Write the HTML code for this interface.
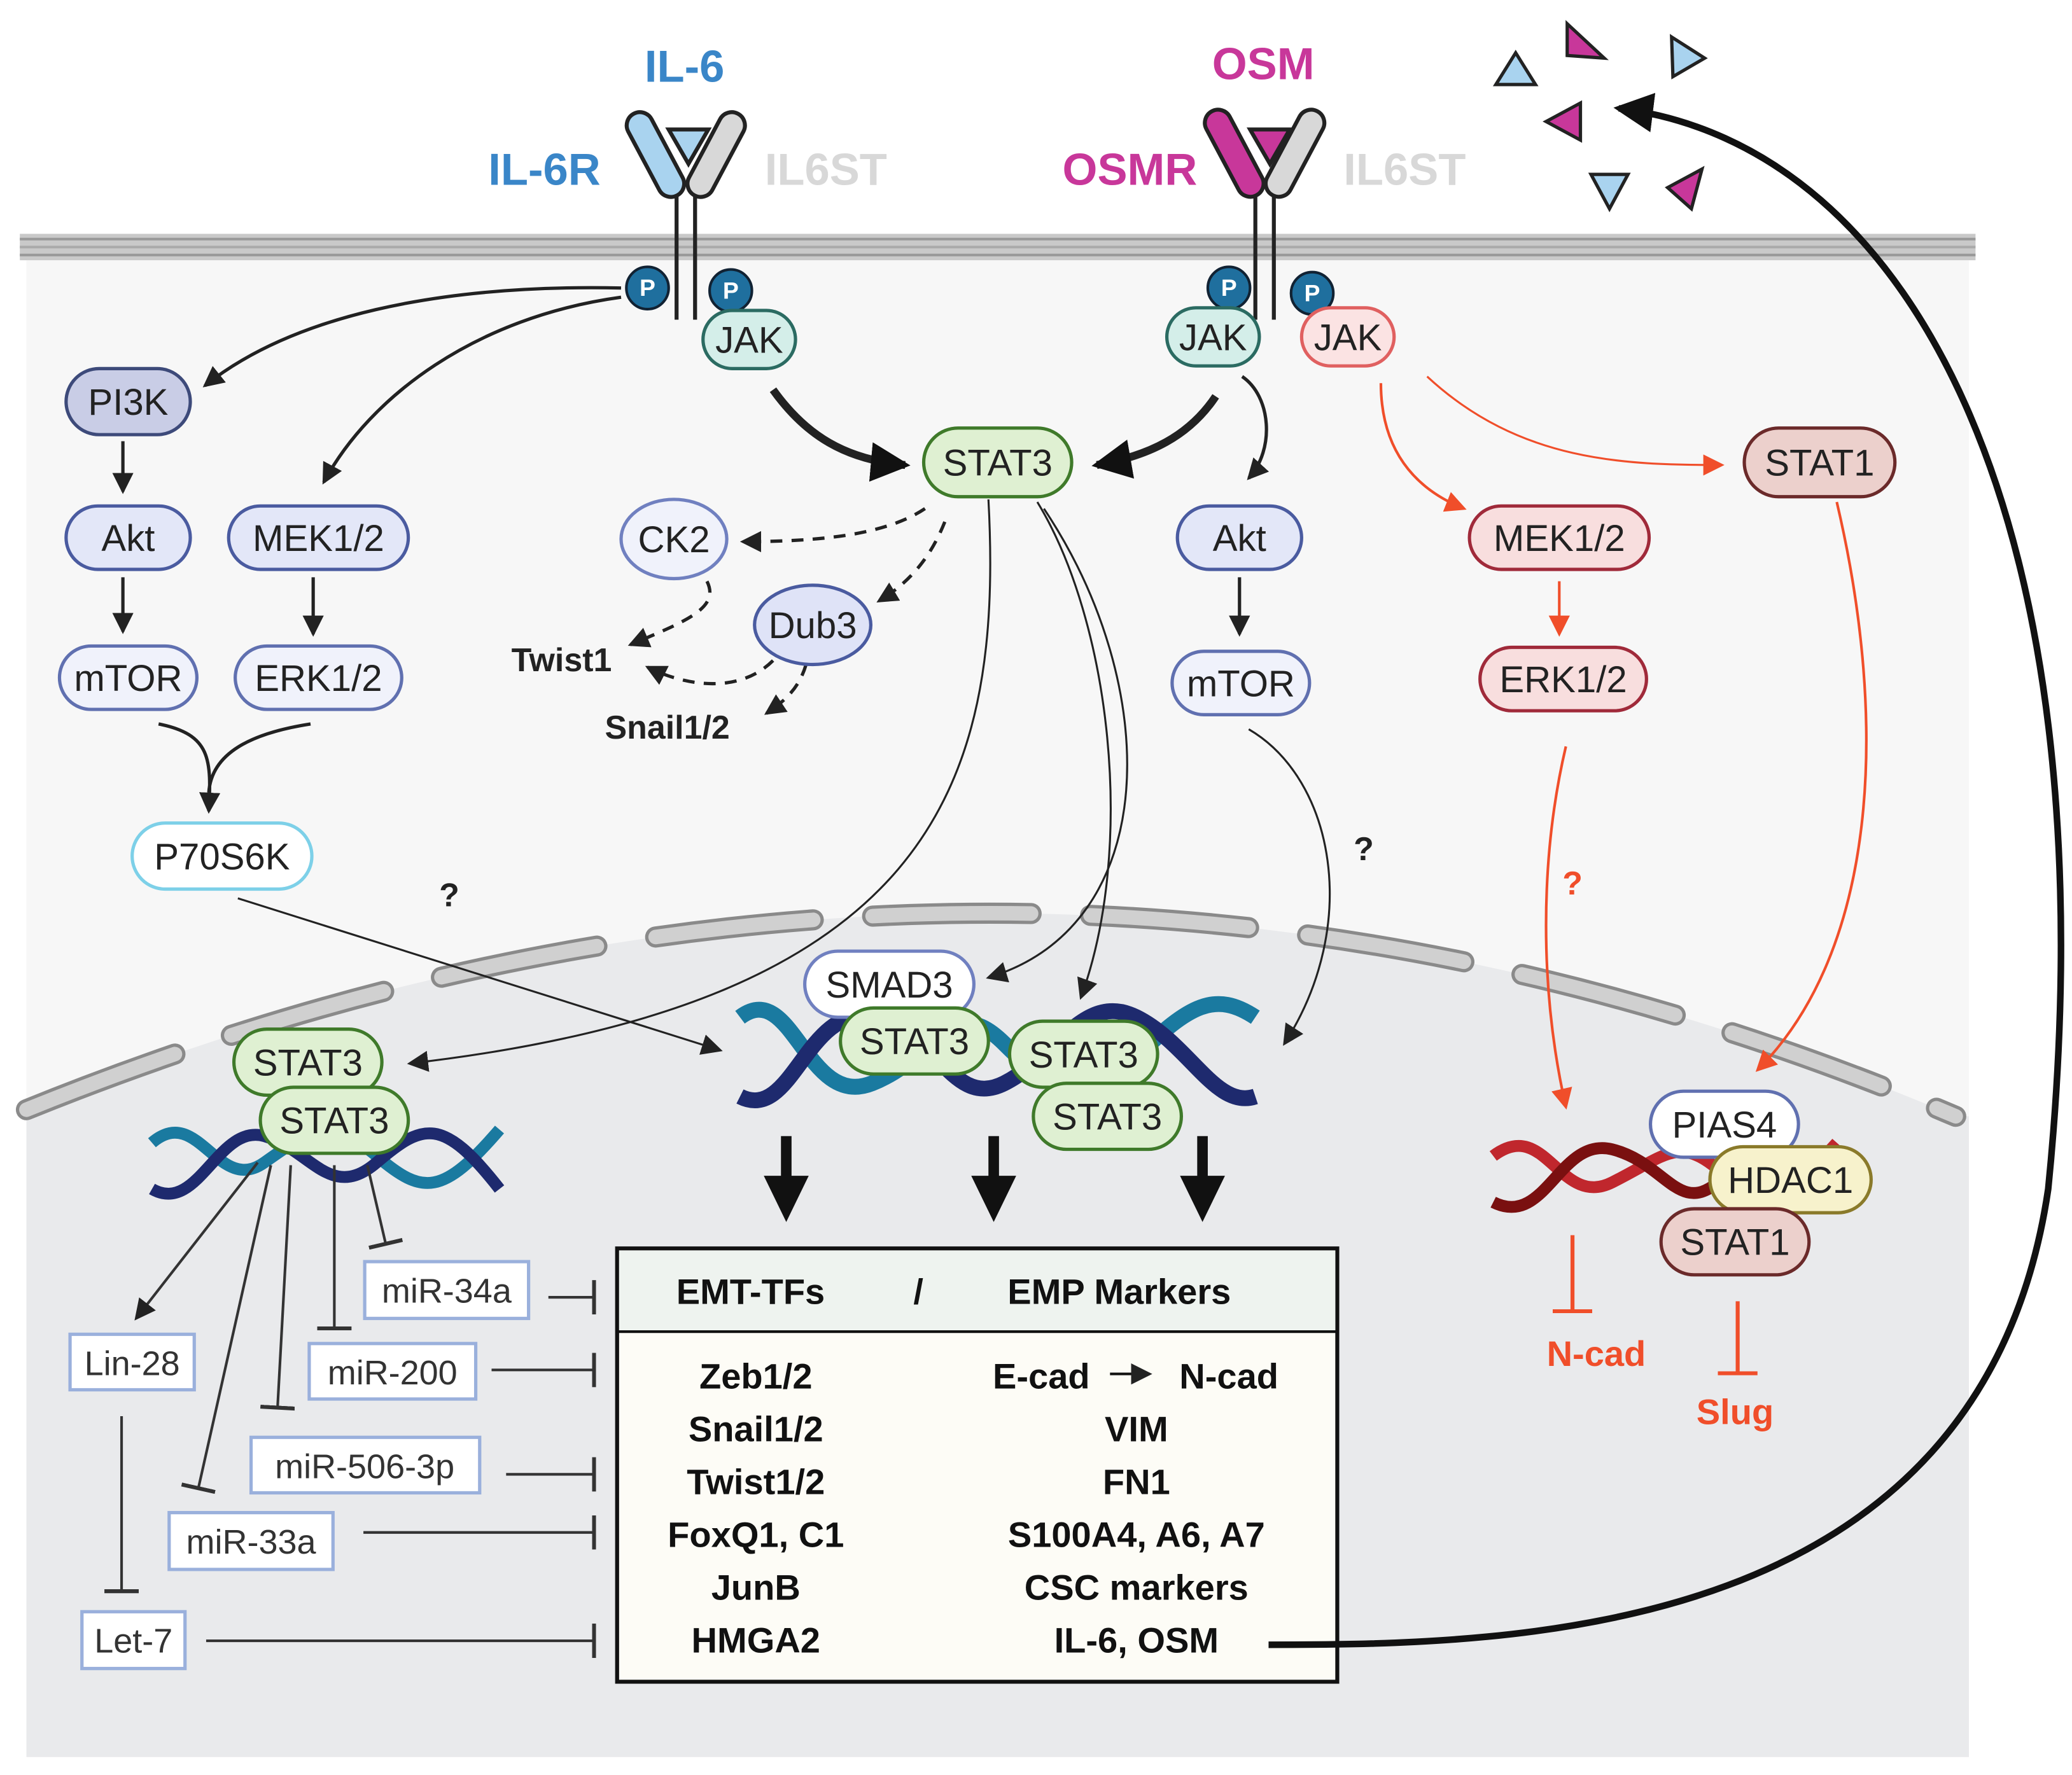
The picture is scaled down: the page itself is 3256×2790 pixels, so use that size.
<!DOCTYPE html>
<html><head><meta charset="utf-8"><style>
html,body{margin:0;padding:0;background:#fff}
svg{display:block}
text{font-family:"Liberation Sans",sans-serif}
</style></head><body>
<svg width="3256" height="2790" viewBox="0 0 1568 1343.6" xmlns="http://www.w3.org/2000/svg">
<defs>
<marker id="a" markerUnits="userSpaceOnUse" markerWidth="20" markerHeight="20" refX="14" refY="8" orient="auto"><path d="M0,0 L16,8 L0,16 Z" fill="#222"/></marker>
<marker id="ab" markerUnits="userSpaceOnUse" markerWidth="40" markerHeight="40" refX="26" refY="15" orient="auto"><path d="M0,0 L30,15 L0,30 Z" fill="#111"/></marker>
<marker id="ar" markerUnits="userSpaceOnUse" markerWidth="20" markerHeight="20" refX="14" refY="8" orient="auto"><path d="M0,0 L16,8 L0,16 Z" fill="#f04e2a"/></marker>
<marker id="t" markerUnits="userSpaceOnUse" markerWidth="4" markerHeight="26" refX="2" refY="13" orient="auto"><rect x="0" y="0" width="3" height="26" fill="#333"/></marker>
<marker id="tr" markerUnits="userSpaceOnUse" markerWidth="4" markerHeight="30" refX="2" refY="15" orient="auto"><rect x="0" y="0" width="3" height="30" fill="#f04e2a"/></marker>
</defs>
<!-- cell -->
<rect x="20" y="190" width="1470" height="1140" fill="#f7f7f7"/>
<path d="M20,840 Q760,540 1480,845 L1490,845 L1490,1330 L20,1330 Z" fill="#e9eaec"/>
<path d="M20,840 Q760,540 1480,845" fill="none" stroke="#8a8a8a" stroke-width="16" stroke-dasharray="120,45" stroke-linecap="round"/>
<path d="M20,840 Q760,540 1480,845" fill="none" stroke="#d0d0d0" stroke-width="11" stroke-dasharray="120,45" stroke-linecap="round"/>
<!-- membrane -->
<rect x="15" y="177" width="1480" height="20" fill="#c9c9c9"/>
<line x1="15" y1="181" x2="1495" y2="181" stroke="#999" stroke-width="2"/>
<line x1="15" y1="187" x2="1495" y2="187" stroke="#aaa" stroke-width="2"/>
<line x1="15" y1="193" x2="1495" y2="193" stroke="#999" stroke-width="2"/>
<!-- receptors -->
<g stroke="#222" stroke-width="3">
<line x1="512" y1="145" x2="512" y2="242"/><line x1="526" y1="145" x2="526" y2="242"/>
<line x1="950" y1="145" x2="950" y2="242"/><line x1="964" y1="145" x2="964" y2="242"/>
<rect x="486" y="82" width="20" height="70" rx="10" fill="#a9d3ef" transform="rotate(-28 496 117)"/>
<rect x="532" y="82" width="20" height="70" rx="10" fill="#d8d8d8" transform="rotate(28 542 117)"/>
<path d="M506,98 L536,98 L521,124 Z" fill="#a9d3ef"/>
<rect x="924" y="80" width="20" height="72" rx="10" fill="#c8379a" transform="rotate(-28 934 116)"/>
<rect x="970" y="80" width="20" height="72" rx="10" fill="#d8d8d8" transform="rotate(28 980 116)"/>
<path d="M946,98 L976,98 L961,124 Z" fill="#c8379a"/>
</g>
<g font-weight="bold" font-size="34">
<text x="518" y="62" text-anchor="middle" fill="#3a86c8">IL-6</text>
<text x="412" y="140" text-anchor="middle" fill="#3a86c8">IL-6R</text>
<text x="625" y="140" text-anchor="middle" fill="#d8d8d8">IL6ST</text>
<text x="956" y="60" text-anchor="middle" fill="#c8379a">OSM</text>
<text x="855" y="140" text-anchor="middle" fill="#c8379a">OSMR</text>
<text x="1063" y="140" text-anchor="middle" fill="#d8d8d8">IL6ST</text>
</g>
<!-- ligands -->
<g stroke="#222" stroke-width="2.5">
<path d="M1132,64 L1162,64 L1147,40 Z" fill="#a9d3ef"/>
<path d="M1265,28 L1290,44 L1266,58 Z" fill="#a9d3ef"/>
<path d="M1204,132 L1232,132 L1218,158 Z" fill="#a9d3ef"/>
<path d="M1186,18 L1214,44 L1186,42 Z" fill="#c8379a"/>
<path d="M1170,92 L1196,78 L1196,106 Z" fill="#c8379a"/>
<path d="M1262,142 L1288,128 L1280,158 Z" fill="#c8379a"/>
</g>
<!-- P -->
<g font-size="18" font-weight="bold" fill="#fff" text-anchor="middle">
<circle cx="490" cy="218" r="16" fill="#1f6f9e" stroke="#123" stroke-width="2"/><text x="490" y="224">P</text>
<circle cx="553" cy="220" r="16" fill="#1f6f9e" stroke="#123" stroke-width="2"/><text x="553" y="226">P</text>
<circle cx="930" cy="218" r="16" fill="#1f6f9e" stroke="#123" stroke-width="2"/><text x="930" y="224">P</text>
<circle cx="993" cy="222" r="16" fill="#1f6f9e" stroke="#123" stroke-width="2"/><text x="993" y="228">P</text>
</g>
<!-- connectors -->
<g fill="none" stroke="#222" stroke-width="2.5">
<path d="M470,218 C330,215 220,240 155,292" marker-end="url(#a)"/>
<path d="M470,225 C360,240 280,300 245,365" marker-end="url(#a)"/>
<path d="M93,334 L93,372" marker-end="url(#a)"/>
<path d="M93,437 L93,478" marker-end="url(#a)"/>
<path d="M237,437 L237,480" marker-end="url(#a)"/>
<path d="M120,548 C160,556 160,575 158,614" marker-end="url(#a)"/>
<path d="M235,548 C190,555 160,570 158,600"/>
<path d="M585,295 C610,330 640,348 685,352" stroke-width="6" marker-end="url(#ab)"/>
<path d="M920,300 C900,330 870,345 830,352" stroke-width="6" marker-end="url(#ab)"/>
<path d="M940,285 C962,300 965,340 945,362" marker-end="url(#a)"/>
<path d="M938,437 L938,480" marker-end="url(#a)"/>
<g stroke-dasharray="9,7">
<path d="M700,385 C670,405 620,410 562,410" marker-end="url(#a)"/>
<path d="M715,395 C705,420 690,440 665,455" marker-end="url(#a)"/>
<path d="M535,440 C545,460 520,470 477,488" marker-end="url(#a)"/>
<path d="M585,500 C560,525 520,520 490,505" marker-end="url(#a)"/>
<path d="M610,503 C605,520 595,530 580,540" marker-end="url(#a)"/>
</g>
<path d="M748,378 C760,600 700,760 310,805" stroke-width="1.5" marker-end="url(#a)"/>
<path d="M790,385 C880,520 880,700 748,740" stroke-width="1.5" marker-end="url(#a)"/>
<path d="M785,380 C840,470 860,640 818,755" stroke-width="1.5" marker-end="url(#a)"/>
<path d="M180,680 L545,795" stroke-width="1.5" marker-end="url(#a)"/>
<path d="M945,552 C1010,590 1030,700 972,790" stroke-width="1.5" marker-end="url(#a)"/>
</g>
<g fill="none" stroke="#f04e2a" stroke-width="2">
<path d="M1045,290 C1045,340 1070,370 1108,385" marker-end="url(#ar)"/>
<path d="M1080,285 C1150,350 1230,352 1303,352" marker-end="url(#ar)" stroke-width="1.5"/>
<path d="M1180,440 L1180,480" marker-end="url(#ar)"/>
<path d="M1185,565 C1165,650 1165,750 1185,838" marker-end="url(#ar)"/>
<path d="M1390,380 C1430,550 1420,720 1330,810" marker-end="url(#ar)"/>
<path d="M1190,935 L1190,993" marker-end="url(#tr)" stroke-width="3"/>
<path d="M1315,985 L1315,1040" marker-end="url(#tr)" stroke-width="3"/>
</g>
<!-- DNA -->
<g fill="none" stroke-width="9">
<path d="M115,865 C150,835 165,905 200,880 S250,845 285,875 S335,905 378,855" stroke="#1a7aa0"/>
<path d="M115,900 C150,920 165,850 200,860 S250,910 285,880 S335,845 378,900" stroke="#1e2a6e"/>
<path d="M560,770 C600,740 610,840 660,820 S720,750 760,790 S820,840 860,800 S920,750 950,770" stroke="#1a7aa0" stroke-width="12"/>
<path d="M560,830 C600,850 610,760 660,770 S720,840 760,820 S820,750 860,770 S920,840 950,830" stroke="#1e2a6e" stroke-width="12"/>
<path d="M1130,875 C1170,845 1180,915 1220,895 S1270,860 1300,885 S1350,910 1390,865" stroke="#c0272d"/>
<path d="M1130,910 C1170,930 1180,860 1220,870 S1270,920 1300,895 S1350,860 1390,905" stroke="#7a1010"/>
</g>
<!-- big down arrows -->
<g stroke="#111" stroke-width="8"><line x1="595" y1="860" x2="595" y2="895"/><line x1="752" y1="860" x2="752" y2="895"/><line x1="910" y1="860" x2="910" y2="895"/></g>
<g fill="#111"><path d="M578,890 L612,890 L595,925 Z"/><path d="M735,890 L769,890 L752,925 Z"/><path d="M893,890 L927,890 L910,925 Z"/></g>
<!-- nodes -->
<g font-size="28" fill="#222" text-anchor="middle" stroke-width="2.5">
<g><rect x="532" y="235" width="70" height="44" rx="22" fill="#d4eee9" stroke="#2b6b62"/><text x="567" y="267">JAK</text></g>
<g><rect x="883" y="233" width="70" height="44" rx="22" fill="#d4eee9" stroke="#2b6b62"/><text x="918" y="265">JAK</text></g>
<g><rect x="985" y="233" width="70" height="44" rx="22" fill="#fbe3e3" stroke="#e06060"/><text x="1020" y="265">JAK</text></g>
<g><rect x="50" y="279" width="94" height="50" rx="25" fill="#c9cde6" stroke="#3d4a7a"/><text x="97" y="314">PI3K</text></g>
<g><rect x="50" y="383" width="94" height="48" rx="24" fill="#e3e7f8" stroke="#4a5ba0"/><text x="97" y="417">Akt</text></g>
<g><rect x="173" y="383" width="136" height="48" rx="24" fill="#e3e7f8" stroke="#4a5ba0"/><text x="241" y="417">MEK1/2</text></g>
<g><rect x="45" y="489" width="104" height="48" rx="24" fill="#f0f2fb" stroke="#6070b0"/><text x="97" y="523">mTOR</text></g>
<g><rect x="178" y="489" width="126" height="48" rx="24" fill="#f0f2fb" stroke="#6070b0"/><text x="241" y="523">ERK1/2</text></g>
<g><rect x="100" y="623" width="136" height="50" rx="25" fill="#fff" stroke="#7dd0e8"/><text x="168" y="658">P70S6K</text></g>
<g><rect x="699" y="324" width="112" height="52" rx="26" fill="#dff0d2" stroke="#3f7a2a"/><text x="755" y="360">STAT3</text></g>
<g><ellipse cx="510" cy="408" rx="40" ry="30" fill="#f0f2fb" stroke="#7080c0"/><text x="510" y="418">CK2</text></g>
<g><ellipse cx="615" cy="473" rx="44" ry="30" fill="#dfe3f7" stroke="#4a5ba0"/><text x="615" y="483">Dub3</text></g>
<g><rect x="891" y="383" width="94" height="48" rx="24" fill="#e3e7f8" stroke="#4a5ba0"/><text x="938" y="417">Akt</text></g>
<g><rect x="887" y="493" width="104" height="48" rx="24" fill="#f0f2fb" stroke="#6070b0"/><text x="939" y="527">mTOR</text></g>
<g><rect x="1320" y="324" width="114" height="52" rx="26" fill="#ecd0cc" stroke="#6b2a2a"/><text x="1377" y="360">STAT1</text></g>
<g><rect x="1112" y="383" width="136" height="48" rx="24" fill="#f8dede" stroke="#a02a3a"/><text x="1180" y="417">MEK1/2</text></g>
<g><rect x="1120" y="490" width="126" height="48" rx="24" fill="#f8dede" stroke="#a02a3a"/><text x="1183" y="524">ERK1/2</text></g>
<g><rect x="177" y="779" width="112" height="50" rx="25" fill="#dff0d2" stroke="#3f7a2a"/><text x="233" y="814">STAT3</text></g>
<g><rect x="197" y="823" width="112" height="50" rx="25" fill="#dff0d2" stroke="#3f7a2a"/><text x="253" y="858">STAT3</text></g>
<g><rect x="609" y="720" width="128" height="50" rx="25" fill="#fff" stroke="#7080c0"/><text x="673" y="755">SMAD3</text></g>
<g><rect x="636" y="763" width="112" height="50" rx="25" fill="#dff0d2" stroke="#3f7a2a"/><text x="692" y="798">STAT3</text></g>
<g><rect x="764" y="773" width="112" height="50" rx="25" fill="#dff0d2" stroke="#3f7a2a"/><text x="820" y="808">STAT3</text></g>
<g><rect x="782" y="820" width="112" height="50" rx="25" fill="#dff0d2" stroke="#3f7a2a"/><text x="838" y="855">STAT3</text></g>
<g><rect x="1249" y="826" width="112" height="50" rx="25" fill="#fff" stroke="#6070b0"/><text x="1305" y="861">PIAS4</text></g>
<g><rect x="1294" y="868" width="122" height="50" rx="25" fill="#f7f2cc" stroke="#8a7a2a"/><text x="1355" y="903">HDAC1</text></g>
<g><rect x="1257" y="915" width="112" height="50" rx="25" fill="#ecd0cc" stroke="#6b2a2a"/><text x="1313" y="950">STAT1</text></g>
</g>
<g font-size="25" font-weight="bold" fill="#222" text-anchor="middle">
<text x="425" y="508">Twist1</text><text x="505" y="559">Snail1/2</text>
<text x="340" y="686">?</text><text x="1032" y="651">?</text>
<text x="1190" y="677" fill="#f04e2a">?</text>
<text x="1208" y="1034" fill="#f04e2a" font-size="27">N-cad</text>
<text x="1313" y="1078" fill="#f04e2a" font-size="27">Slug</text>
</g>
<!-- STAT3 DNA lines -->
<g fill="none" stroke="#333" stroke-width="2">
<path d="M195,880 L103,998" marker-end="url(#a)"/>
<path d="M205,882 L150,1127" marker-end="url(#t)"/>
<path d="M220,882 L210,1066" marker-end="url(#t)"/>
<path d="M253,882 L253,1006" marker-end="url(#t)"/>
<path d="M278,882 L292,942" marker-end="url(#t)"/>
<path d="M92,1072 L92,1205" marker-end="url(#t)"/>
<path d="M415,982 L450,982" marker-end="url(#t)"/>
<path d="M372,1037 L450,1037" marker-end="url(#t)"/>
<path d="M383,1116 L450,1116" marker-end="url(#t)"/>
<path d="M275,1160 L450,1160" marker-end="url(#t)"/>
<path d="M156,1242 L450,1242" marker-end="url(#t)"/>
</g>
<!-- mirna boxes -->
<g font-size="26" fill="#333" text-anchor="middle" stroke-width="2.5">
<rect x="276" y="955" width="124" height="43" fill="#fff" stroke="#9ab0dc"/><text x="338" y="986">miR-34a</text>
<rect x="53" y="1010" width="94" height="42" fill="#fff" stroke="#9ab0dc"/><text x="100" y="1041">Lin-28</text>
<rect x="234" y="1017" width="126" height="42" fill="#fff" stroke="#9ab0dc"/><text x="297" y="1048">miR-200</text>
<rect x="190" y="1088" width="173" height="42" fill="#fff" stroke="#9ab0dc"/><text x="276" y="1119">miR-506-3p</text>
<rect x="128" y="1145" width="124" height="43" fill="#fff" stroke="#9ab0dc"/><text x="190" y="1176">miR-33a</text>
<rect x="62" y="1220" width="78" height="43" fill="#fff" stroke="#9ab0dc"/><text x="101" y="1251">Let-7</text>
</g>
<!-- EMT box -->
<rect x="467" y="945" width="545" height="328" fill="#fdfcf6" stroke="#111" stroke-width="3"/>
<rect x="468.5" y="946.5" width="542" height="61" fill="#eef3ef"/>
<line x1="467" y1="1008" x2="1012" y2="1008" stroke="#111" stroke-width="2"/>
<g font-size="27" font-weight="bold" fill="#111" text-anchor="middle">
<text x="568" y="987">EMT-TFs</text><text x="695" y="987">/</text><text x="847" y="987">EMP Markers</text>
<text x="572" y="1051">Zeb1/2</text><text x="572" y="1091">Snail1/2</text><text x="572" y="1131">Twist1/2</text><text x="572" y="1171">FoxQ1, C1</text><text x="572" y="1211">JunB</text><text x="572" y="1251">HMGA2</text>
<text x="788" y="1051">E-cad</text><text x="930" y="1051">N-cad</text>
<text x="860" y="1091">VIM</text><text x="860" y="1131">FN1</text><text x="860" y="1171">S100A4, A6, A7</text><text x="860" y="1211">CSC markers</text><text x="860" y="1251">IL-6, OSM</text>
</g>
<path d="M840,1040 L870,1040" stroke="#111" stroke-width="2" marker-end="url(#a)"/>
<!-- feedback -->
<path d="M960,1245 C1150,1245 1500,1240 1550,900 C1600,400 1450,110 1225,82" fill="none" stroke="#111" stroke-width="5" marker-end="url(#ab)"/>
</svg>
</body></html>
